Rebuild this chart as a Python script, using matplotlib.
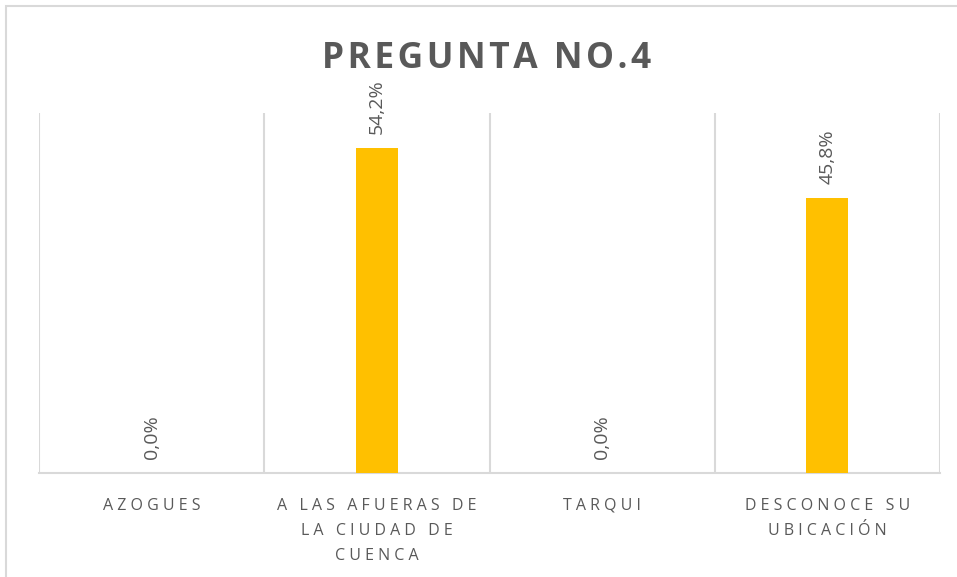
import numpy as np
import matplotlib
matplotlib.use("Agg")
import matplotlib.pyplot as plt
from matplotlib.patches import Rectangle

# Datos del gráfico
categorias = ["AZOGUES", "A LAS AFUERAS DE\nLA CIUDAD DE\nCUENCA", "TARQUI", "DESCONOCE SU\nUBICACIÓN"]
porcentajes = [0.0, 54.2, 0.0, 45.8]
titulo = "PREGUNTA NO.4"

gris = "#595959"
oro = "#FFC000"
linea = "#D9D9D9"

plt.rcParams["font.family"] = ["Open Sans", "DejaVu Sans"]


def espaciar(texto):
    # imita el espaciado entre letras de Excel
    lineas = []
    for ln in texto.split("\n"):
        palabras = [" ".join(list(p)) for p in ln.split(" ")]
        lineas.append("   ".join(palabras))
    return "\n".join(lineas)


W, H = 957, 577
fig = plt.figure(figsize=(W / 100, H / 100), dpi=100)
ax = fig.add_axes([39 / W, 1 - 473 / H, (940 - 39) / W, (473 - 113) / H])

x = np.arange(len(categorias))
barras = ax.bar(x, porcentajes, width=0.187, color=oro, zorder=3)

ax.set_xlim(-0.5, len(categorias) - 0.5)
ax.set_ylim(0, 60)

# líneas verticales entre categorías
for b in np.arange(-0.5, len(categorias), 1.0):
    ax.axvline(b, color=linea, lw=1.5, zorder=1)

for s in ["top", "left", "right"]:
    ax.spines[s].set_visible(False)
ax.spines["bottom"].set_color(linea)
ax.spines["bottom"].set_linewidth(1.5)
ax.spines["bottom"].set_zorder(2)
ax.set_yticks([])

ax.set_xticks(x)
ax.set_xticklabels([espaciar(c) for c in categorias], fontsize=11.5, color=gris,
                   linespacing=1.75, va="top")
ax.tick_params(axis="x", length=0, pad=18)

# etiquetas de datos
for xi, v in zip(x, porcentajes):
    ax.annotate(f"{v:.1f}%".replace(".", ","), xy=(xi, v), xytext=(0, 10),
                textcoords="offset points", rotation=90, ha="center", va="bottom",
                fontsize=14, color=gris)

fig.text(0.508, 1 - 68 / H, "\u200a".join(titulo), ha="center", va="baseline",
         fontsize=25.5, fontweight="bold", color=gris)

# borde exterior del gráfico
fig.patches.append(Rectangle((6 / W, -0.1), 1.2, 1 - 6 / H + 0.1,
                             transform=fig.transFigure, fill=False,
                             edgecolor=linea, lw=1.5))

fig.savefig("out.png", dpi=100)
